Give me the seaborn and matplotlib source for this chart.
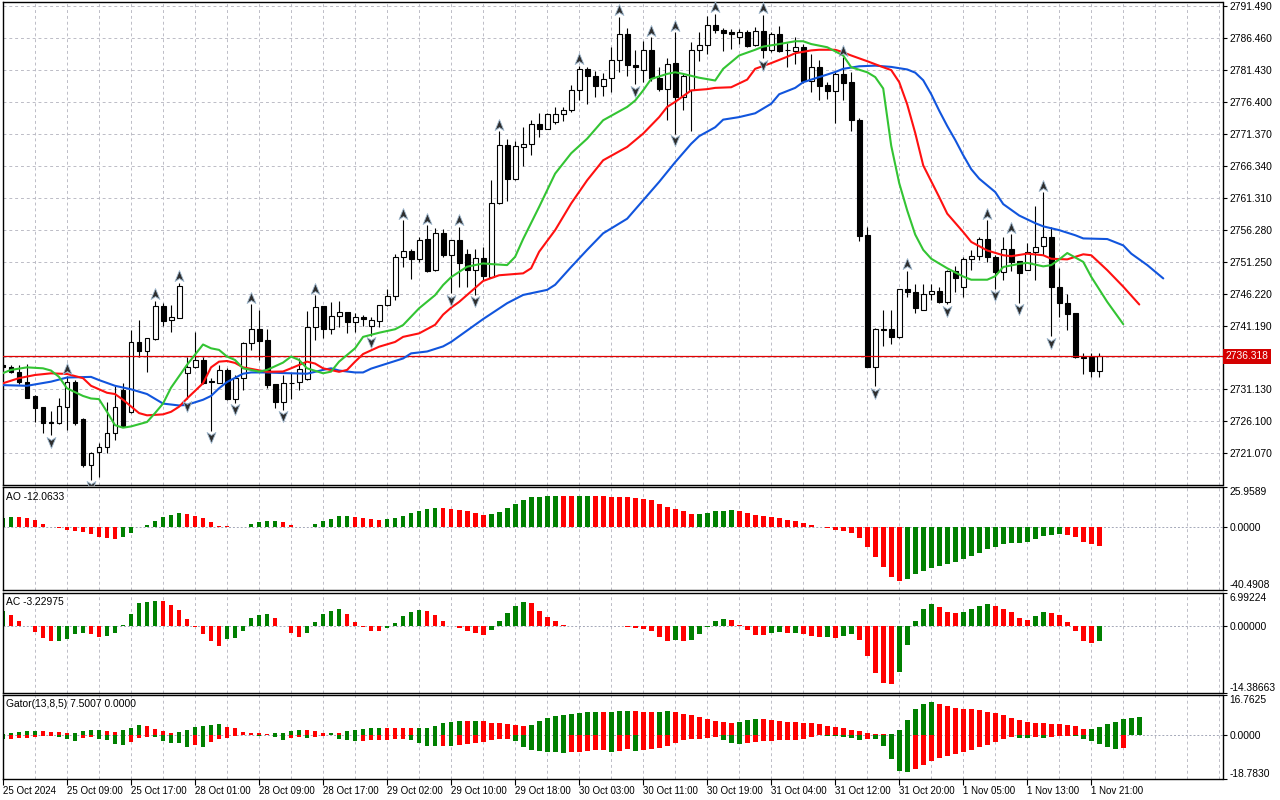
import numpy as np
import pandas as pd
import matplotlib
matplotlib.use("Agg")
import matplotlib.pyplot as plt
import matplotlib.transforms as mtransforms
from matplotlib.path import Path
import seaborn as sns

# ---------------- data (hourly XAUUSD) ----------------
opens = [2734.9, 2734.6, 2733.8, 2732.35, 2730.1, 2728.36, 2725.95, 2725.8, 2728.4, 2732.25,
         2726.4, 2719.3, 2721.2, 2722.1, 2724.2, 2731.1, 2727.5, 2738.55, 2737.1, 2739.1,
         2744.3, 2742.0, 2742.4, 2733.7, 2734.6, 2735.8, 2732.35, 2732.2, 2734.2, 2729.6,
         2733.0, 2738.4, 2740.6, 2738.9, 2731.98, 2729.2, 2732.2, 2732.25, 2732.7, 2740.9,
         2744.2, 2740.7, 2742.67, 2743.25, 2741.8, 2742.5, 2741.15, 2741.9, 2744.35, 2745.76,
         2752.04, 2752.98, 2751.7, 2754.77, 2749.9, 2755.8, 2752.27, 2754.6, 2752.4, 2749.9,
         2751.75, 2748.9, 2760.4, 2769.55, 2764.3, 2769.3, 2769.8, 2772.95, 2772.2, 2773.2,
         2774.5, 2775.05, 2778.2, 2781.6, 2780.5, 2778.97, 2780.17, 2783.0, 2787.09, 2782.27,
         2781.4, 2784.6, 2780.2, 2778.45, 2782.5, 2777.2, 2778.3, 2784.6, 2785.4, 2788.55,
         2787.7, 2787.45, 2786.67, 2787.35, 2785.4, 2787.5, 2784.5, 2787.1, 2784.6, 2784.4,
         2785.1, 2779.66, 2781.96, 2779.1, 2778.1, 2780.8, 2779.5, 2773.6, 2755.4, 2734.7,
         2740.6, 2740.6, 2739.4, 2746.9, 2746.4, 2743.7, 2746.1, 2746.65, 2744.9, 2749.7,
         2747.3, 2751.7, 2752.15, 2754.87, 2751.9, 2749.6, 2753.3, 2751.36, 2750.0, 2752.8,
         2753.67, 2755.2, 2747.2, 2744.7, 2743.1, 2736.2, 2736.2, 2734.1]
highs = [2735.2, 2735.0, 2735.0, 2735.1, 2730.25, 2728.4, 2727.7, 2729.7, 2733.25, 2732.6,
         2726.6, 2721.3, 2722.75, 2729.2, 2731.6, 2732.1, 2740.5, 2742.1, 2739.3, 2745.1,
         2744.8, 2744.4, 2747.9, 2736.3, 2740.2, 2736.3, 2732.9, 2735.0, 2734.45, 2733.4,
         2738.6, 2744.56, 2743.6, 2740.7, 2732.0, 2733.4, 2733.7, 2736.0, 2743.5, 2745.97,
         2744.3, 2744.9, 2745.1, 2743.35, 2743.2, 2742.8, 2742.6, 2744.4, 2747.0, 2752.4,
         2757.75, 2753.3, 2755.2, 2757.0, 2756.5, 2756.4, 2754.7, 2756.7, 2753.3, 2753.2,
         2753.58, 2764.05, 2771.75, 2770.6, 2770.3, 2772.5, 2773.6, 2774.7, 2774.6, 2775.57,
         2775.57, 2779.1, 2782.1, 2781.85, 2781.3, 2780.9, 2785.0, 2789.8, 2788.1, 2784.6,
         2786.04, 2786.56, 2781.85, 2783.3, 2787.35, 2780.9, 2785.8, 2787.35, 2789.97, 2790.3,
         2788.03, 2787.9, 2787.9, 2787.7, 2788.24, 2790.1, 2787.35, 2788.4, 2785.6, 2786.67,
         2785.5, 2783.95, 2783.0, 2779.5, 2781.06, 2783.4, 2781.06, 2773.9, 2756.7, 2740.75,
         2743.7, 2743.7, 2747.0, 2749.8, 2747.7, 2747.7, 2747.8, 2747.3, 2749.9, 2750.5,
         2751.9, 2753.0, 2755.2, 2757.75, 2752.25, 2755.13, 2755.55, 2751.4, 2754.2, 2759.95,
         2762.2, 2756.7, 2750.3, 2746.1, 2743.2, 2736.9, 2736.9, 2736.9]
lows = [2734.3, 2733.7, 2732.0, 2729.7, 2726.05, 2724.3, 2723.95, 2725.7, 2724.7, 2725.5,
        2718.86, 2716.9, 2717.4, 2721.17, 2723.2, 2725.2, 2727.4, 2736.3, 2733.9, 2738.9,
        2741.1, 2740.2, 2742.3, 2729.6, 2734.45, 2732.0, 2724.6, 2732.1, 2729.5, 2729.0,
        2731.05, 2737.3, 2735.76, 2731.3, 2728.17, 2727.9, 2729.6, 2731.05, 2732.6, 2738.9,
        2739.2, 2739.8, 2741.0, 2740.05, 2740.2, 2741.1, 2739.6, 2741.0, 2744.3, 2745.2,
        2750.4, 2748.5, 2751.2, 2749.6, 2749.8, 2751.9, 2746.25, 2747.3, 2747.3, 2746.0,
        2748.3, 2748.6, 2760.3, 2760.8, 2764.05, 2766.25, 2768.1, 2770.9, 2772.1, 2772.85,
        2773.4, 2774.8, 2776.7, 2775.99, 2777.1, 2777.25, 2777.93, 2781.06, 2780.5, 2779.2,
        2779.5, 2779.76, 2778.1, 2773.6, 2771.4, 2775.05, 2771.8, 2782.9, 2783.95, 2787.2,
        2784.4, 2784.73, 2785.5, 2785.1, 2785.25, 2783.3, 2784.2, 2784.2, 2781.96, 2782.4,
        2779.3, 2777.93, 2776.7, 2776.9, 2773.06, 2776.7, 2771.8, 2754.5, 2734.6, 2731.6,
        2737.9, 2738.3, 2739.3, 2745.7, 2743.2, 2743.6, 2745.2, 2744.7, 2744.55, 2746.5,
        2745.7, 2749.9, 2751.5, 2751.2, 2747.0, 2748.3, 2749.8, 2744.76, 2749.9, 2748.4,
        2752.25, 2739.5, 2742.6, 2740.5, 2736.15, 2733.6, 2733.1, 2733.1]
closes = [2734.6, 2733.9, 2732.35, 2729.83, 2728.26, 2725.9, 2725.9, 2728.5, 2732.25, 2725.8,
          2719.3, 2721.07, 2722.1, 2724.2, 2728.4, 2725.3, 2738.55, 2737.1, 2739.2, 2744.3,
          2741.96, 2742.5, 2747.4, 2734.6, 2735.8, 2732.2, 2732.3, 2734.2, 2729.6, 2732.9,
          2738.4, 2740.6, 2738.8, 2731.9, 2729.2, 2732.1, 2732.1, 2734.3, 2740.9, 2744.1,
          2740.7, 2742.67, 2743.25, 2741.8, 2742.5, 2742.15, 2742.0, 2744.35, 2745.76, 2752.04,
          2752.88, 2751.7, 2754.7, 2749.8, 2755.8, 2752.25, 2754.6, 2751.0, 2749.9, 2751.75,
          2749.0, 2760.4, 2769.55, 2764.3, 2769.4, 2769.8, 2772.95, 2772.2, 2774.5, 2774.5,
          2775.05, 2778.2, 2781.6, 2780.5, 2778.97, 2779.97, 2783.0, 2787.09, 2782.2, 2781.96,
          2784.6, 2780.2, 2778.4, 2782.4, 2777.2, 2780.4, 2784.6, 2785.4, 2788.55, 2787.7,
          2787.2, 2787.09, 2787.35, 2785.25, 2787.5, 2784.6, 2787.1, 2784.4, 2784.5, 2785.1,
          2779.66, 2781.96, 2778.97, 2778.1, 2780.8, 2779.3, 2773.6, 2755.25, 2734.7, 2740.6,
          2740.5, 2739.4, 2746.9, 2746.5, 2743.9, 2746.1, 2746.65, 2744.9, 2749.7, 2748.6,
          2751.7, 2752.15, 2754.87, 2751.9, 2749.6, 2753.3, 2751.2, 2749.5, 2752.8, 2753.56,
          2755.2, 2747.2, 2744.7, 2743.0, 2736.2, 2736.1, 2734.1, 2736.318]
last_price = 2736.318

# Alligator lines (bar index, value)
jaw_bar = [0, 3, 6, 8, 11, 12, 14, 16, 18, 20, 22, 23, 25, 26, 27, 28, 30, 31, 33, 35, 38, 40, 41, 42,
           44, 45, 46, 48, 50, 51, 53, 55, 56, 58, 60, 63, 65, 68, 69, 71, 73, 75, 78, 80, 82, 84, 86,
           87, 89, 90, 92, 94, 96, 97, 99, 100, 102, 104, 105, 107, 109, 111, 113, 114, 115, 116, 117,
           118, 119, 120, 121, 122, 124, 125, 127, 129, 130, 132, 134, 135, 138, 140, 141, 143, 145]
jaw_val = [2731.8, 2731.7, 2732.35, 2733.0, 2733.1, 2732.6, 2731.7, 2731.15, 2730.4, 2728.9, 2728.6,
           2728.7, 2729.5, 2730.1, 2731.3, 2732.3, 2733.6, 2733.8, 2733.8, 2733.7, 2733.6, 2734.2,
           2734.45, 2734.1, 2733.8, 2733.8, 2734.4, 2735.2, 2736.0, 2736.8, 2737.1, 2737.9, 2738.6,
           2740.4, 2742.2, 2744.7, 2746.0, 2746.8, 2747.6, 2750.4, 2753.1, 2755.7, 2758.0, 2760.9,
           2763.8, 2766.9, 2769.8, 2771.0, 2772.4, 2773.6, 2774.0, 2774.6, 2776.1, 2777.6, 2778.6,
           2779.5, 2780.3, 2781.1, 2781.6, 2782.0, 2782.1, 2781.9, 2781.5, 2781.0, 2779.8, 2777.6,
           2775.0, 2772.6, 2770.4, 2768.0, 2765.8, 2764.3, 2762.2, 2760.3, 2758.5, 2757.3, 2756.8,
           2756.2, 2755.4, 2754.9, 2754.8, 2753.8, 2752.5, 2750.7, 2748.6]
teeth_bar = [0, 2, 4, 6, 8, 10, 11, 13, 14, 15, 17, 18, 20, 21, 22, 23, 25, 26, 27, 28, 29, 30, 33, 35,
             36, 38, 39, 40, 42, 43, 44, 45, 47, 49, 50, 52, 54, 55, 56, 57, 60, 62, 65, 66, 67, 69,
             71, 73, 75, 78, 80, 82, 83, 84, 86, 88, 89, 91, 93, 94, 96, 98, 99, 101, 102, 104, 105,
             106, 108, 110, 111, 112, 113, 114, 115, 117, 118, 120, 121, 123, 125, 126, 128, 130, 131,
             133, 135, 136, 138, 140, 142]
teeth_val = [2732.1, 2732.9, 2733.4, 2733.66, 2733.56, 2732.9, 2731.7, 2730.6, 2730.4, 2729.5, 2727.4,
             2727.05, 2727.2, 2727.6, 2728.4, 2729.7, 2732.1, 2734.6, 2735.5, 2735.6, 2735.3, 2734.6,
             2733.9, 2733.95, 2734.45, 2735.5, 2735.2, 2734.45, 2733.9, 2734.2, 2735.5, 2736.7,
             2737.85, 2738.6, 2739.4, 2739.95, 2741.3, 2742.9, 2744.0, 2744.9, 2748.2, 2749.1, 2749.4,
             2750.2, 2752.8, 2756.2, 2760.4, 2764.05, 2767.2, 2769.3, 2771.4, 2774.0, 2775.6, 2776.4,
             2778.2, 2778.4, 2778.6, 2778.7, 2779.9, 2781.6, 2782.5, 2783.5, 2784.05, 2784.5, 2784.6,
             2784.6, 2784.2, 2783.7, 2782.8, 2781.85, 2781.4, 2779.5, 2776.0, 2771.5, 2766.4, 2761.4,
             2758.8, 2755.9, 2754.35, 2753.0, 2752.25, 2752.1, 2752.5, 2752.25, 2751.7, 2751.6, 2752.4,
             2752.25, 2749.9, 2747.3, 2744.5]
lips_bar = [0, 1, 3, 5, 6, 7, 8, 10, 11, 12, 13, 14, 15, 16, 18, 19, 20, 21, 23, 25, 26, 27, 28, 29,
            30, 32, 33, 35, 36, 37, 38, 40, 41, 42, 44, 45, 47, 49, 50, 52, 54, 55, 56, 58, 60, 61,
            63, 64, 65, 67, 69, 71, 73, 75, 78, 79, 80, 81, 83, 84, 85, 87, 89, 90, 92, 94, 95, 97,
            99, 100, 101, 103, 105, 106, 108, 109, 110, 111, 112, 113, 114, 115, 116, 118, 120, 121,
            123, 124, 125, 127, 128, 130, 131, 132, 133, 135, 136, 138, 140]
lips_val = [2733.7, 2734.2, 2734.6, 2734.45, 2734.1, 2733.1, 2731.3, 2730.1, 2729.7, 2729.6, 2727.6,
            2725.5, 2725.1, 2725.3, 2726.0, 2727.4, 2728.9, 2731.4, 2735.0, 2738.2, 2737.6, 2737.35,
            2736.3, 2735.76, 2734.45, 2733.93, 2734.2, 2735.35, 2736.3, 2735.76, 2734.45, 2733.67,
            2733.93, 2735.5, 2737.6, 2739.4, 2740.05, 2740.6, 2741.26, 2743.9, 2745.97, 2747.56,
            2748.8, 2750.45, 2750.96, 2750.86, 2750.7, 2752.0, 2754.8, 2759.86, 2765.1, 2768.3,
            2770.6, 2773.5, 2775.6, 2776.6, 2778.2, 2780.0, 2780.8, 2781.06, 2780.8, 2780.2, 2779.76,
            2781.6, 2783.7, 2784.6, 2785.1, 2785.5, 2785.94, 2785.94, 2785.5, 2785.0, 2783.7, 2781.85,
            2781.06, 2780.3, 2778.5, 2769.5, 2763.6, 2759.3, 2755.5, 2753.1, 2751.7, 2750.2, 2748.9,
            2748.4, 2748.4, 2748.95, 2750.4, 2750.9, 2751.05, 2750.5, 2750.7, 2751.6, 2752.6, 2751.2,
            2748.85, 2744.9, 2741.4]

fractal_up = [8, 19, 22, 31, 39, 50, 53, 57, 62, 72, 77, 81, 84, 89, 95, 105, 113, 123, 126, 130]
fractal_dn = [6, 11, 23, 26, 29, 35, 46, 56, 59, 79, 84, 95, 109, 118, 124, 127, 131]

ao = [6.02, 6.67, 6.56, 6.02, 4.95, 2.15, 0.43, -0.65, -1.50, -2.37,
      -2.80, -4.30, -6.24, -6.88, -7.53, -6.24, -3.66, 0.20, 1.50, 4.09,
      6.67, 7.96, 9.25, 8.39, 7.53, 6.02, 3.44, 1.08, 0.65, 0.22,
      0.32, 2.15, 3.66, 4.09, 4.19, 3.44, 1.50, 0.05, 0.11, 2.15,
      4.09, 5.38, 7.31, 7.42, 6.67, 6.02, 5.40, 4.90, 5.00, 6.02,
      7.31, 9.25, 10.75, 11.83, 12.47, 12.37, 11.83, 11.18, 10.54, 9.25,
      7.96, 8.60, 9.89, 12.47, 15.05, 17.63, 19.57, 19.68, 20.20, 20.30,
      20.20, 20.15, 20.20, 20.25, 20.20, 20.10, 19.80, 19.57, 19.35, 18.90,
      18.30, 17.60, 15.05, 13.10, 11.83, 10.50, 8.60, 8.70, 9.25, 10.54,
      10.60, 11.18, 10.54, 9.25, 7.96, 7.31, 6.67, 6.02, 4.73, 4.09,
      2.80, 1.50, 0.43, -0.65, -1.50, -2.37, -3.87, -6.67, -12.69, -19.14,
      -25.60, -32.04, -34.62, -33.33, -30.10, -28.17, -26.24, -24.95, -23.66, -22.37,
      -20.43, -18.49, -16.56, -13.98, -12.69, -10.75, -10.10, -10.00, -9.46, -7.53,
      -5.59, -4.95, -4.30, -4.95, -6.24, -9.46, -10.75, -12.06]
ac = [3.06, 2.21, 0.93, -0.14, -1.35, -2.64, -3.28, -3.20, -2.92, -1.78,
      -1.64, -1.78, -2.42, -2.20, -1.57, 0.05, 2.42, 4.92, 5.06, 5.27,
      5.20, 4.35, 3.28, 1.35, -0.29, -1.78, -3.28, -4.42, -2.85, -2.71,
      -1.21, 1.57, 2.28, 2.42, 1.57, -0.07, -1.57, -2.49, -1.57, 0.78,
      2.42, 3.21, 3.49, 2.42, 0.78, -0.29, -1.10, -1.16, -0.50, 0.57,
      2.00, 2.85, 3.28, 3.06, 2.21, 0.93, -0.14, -0.50, -1.14, -1.57,
      -2.00, -0.93, 0.93, 2.64, 4.13, 4.99, 4.78, 3.06, 1.78, 0.93,
      0.07, -0.07, -0.03, 0.02, -0.04, -0.08, -0.03, 0.03, -0.21, -0.50,
      -0.78, -1.21, -2.49, -3.28, -3.14, -3.28, -3.14, -1.78, -0.29, 0.93,
      1.35, 1.32, 0.07, -0.93, -2.00, -2.03, -1.57, -1.35, -1.57, -1.53,
      -1.78, -2.21, -2.42, -2.39, -2.64, -2.21, -1.78, -3.06, -6.49, -10.12,
      -12.26, -12.47, -9.91, -4.13, 1.00, 3.49, 4.56, 3.92, 2.85, 2.64,
      2.85, 3.49, 4.13, 4.56, 4.13, 3.49, 2.85, 1.57, 1.14, 2.00,
      2.85, 2.64, 2.21, 0.71, -1.14, -3.28, -3.71, -3.23]
gator_up = [0.42, 0.56, 1.26, 1.54, 1.69, 1.60, 1.26, 1.12, 0.70, 0.84,
            1.40, 1.97, 2.10, 1.54, 1.12, 1.97, 2.81, 4.07, 3.79, 2.53,
            1.54, 0.56, 1.12, 2.10, 3.09, 3.79, 4.07, 4.49, 3.37, 2.67,
            1.26, 0.84, 0.56, 0.42, 0.49, 0.56, 1.54, 2.10, 2.04, 1.54,
            0.70, 0.84, 0.56, 1.54, 1.97, 2.53, 2.67, 2.74, 2.71, 2.67,
            2.64, 2.61, 2.64, 2.74, 3.65, 4.92, 5.34, 5.76, 5.72, 5.76,
            5.69, 4.92, 4.85, 4.49, 4.07, 3.65, 4.07, 5.76, 7.02, 7.87,
            8.29, 8.71, 9.13, 9.55, 9.62, 9.55, 9.62, 9.97, 10.04, 9.97,
            9.62, 9.55, 9.62, 9.97, 9.55, 8.71, 8.29, 7.44, 6.60, 5.76,
            5.34, 4.92, 5.34, 6.18, 6.60, 6.53, 6.18, 5.76, 5.41, 5.34,
            4.92, 4.85, 4.49, 3.65, 3.23, 2.81, 2.10, 1.54, 0.70, 0.28,
            0.07, 0.14, 1.97, 6.18, 10.81, 12.92, 13.76, 12.92, 12.08, 11.24,
            10.81, 10.74, 10.39, 9.55, 9.13, 8.29, 7.02, 6.18, 5.34, 4.92,
            4.85, 4.49, 4.42, 4.07, 3.65, 2.39, 2.46, 3.23, 4.49, 5.34,
            6.60, 7.02, 7.50]
gator_dn = [-1.69, -1.68, -1.26, -1.25, -0.98, -0.56, -0.42, -0.84, -1.83, -2.53,
            -1.26, -1.20, -1.97, -2.25, -3.79, -4.21, -2.95, -1.26, -0.98, -1.05,
            -2.67, -3.37, -3.65, -5.06, -4.35, -5.06, -3.23, -1.83, -1.26, -0.42,
            -0.35, -0.28, -0.42, -0.35, -1.12, -2.10, -1.26, -0.84, -1.26, -1.20,
            -0.56, -0.28, -2.00, -2.45, -2.60, -2.53, -2.39, -2.25, -2.18, -1.83,
            -1.76, -2.25, -3.37, -4.63, -4.70, -4.63, -4.70, -4.21, -4.14, -3.37,
            -2.95, -2.39, -1.83, -1.76, -2.53, -5.06, -6.46, -6.74, -7.16, -7.44,
            -7.58, -7.51, -7.30, -6.74, -6.67, -6.60, -7.30, -6.74, -6.04, -6.74,
            -6.67, -5.90, -5.62, -4.78, -3.51, -2.25, -1.83, -1.76, -1.40, -1.12,
            -2.25, -3.37, -3.93, -3.37, -2.95, -2.88, -2.53, -2.25, -2.18, -2.11,
            -1.83, -0.84, -0.14, -0.42, -0.49, -0.84, -1.26, -2.25, -1.83, -1.90,
            -4.63, -10.25, -15.31, -15.73, -14.47, -13.06, -11.10, -9.69, -8.85, -8.00,
            -7.30, -6.46, -5.20, -4.35, -2.95, -1.83, -0.84, -1.26, -1.33, -0.84,
            -1.26, -1.20, -0.70, -0.42, -0.49, -1.83, -2.53, -3.79, -5.20, -5.90,
            -5.83, -0.20]

price_ticks = [2721.070, 2726.100, 2731.130, 2736.160, 2741.190, 2746.220, 2751.250, 2756.280,
               2761.310, 2766.340, 2771.370, 2776.400, 2781.430, 2786.460, 2791.490]
time_labels = ["25 Oct 2024", "25 Oct 09:00", "25 Oct 17:00", "28 Oct 01:00", "28 Oct 09:00",
               "28 Oct 17:00", "29 Oct 02:00", "29 Oct 10:00", "29 Oct 18:00", "30 Oct 03:00",
               "30 Oct 11:00", "30 Oct 19:00", "31 Oct 04:00", "31 Oct 12:00", "31 Oct 20:00",
               "1 Nov 05:00", "1 Nov 13:00", "1 Nov 21:00"]

# ---------------- style ----------------
sns.set_theme(style="white")
plt.rcParams['font.family'] = ['Liberation Sans', 'DejaVu Sans']
FS = 7.4
GREEN, RED = '#008000', '#ff0000'
PAL = {'up': GREEN, 'dn': RED}
GRID = dict(color='#bcbcc6', lw=0.7, ls=(0, (3, 3)), zorder=0)

W, H = 1280, 800
fig = plt.figure(figsize=(W / 100, H / 100), dpi=100)
fig.patch.set_facecolor('white')


def panel(top, bottom):
    ax = fig.add_axes([2.5 / W, 1 - bottom / H, 1220 / W, (bottom - top) / H])
    ax.set_facecolor('white')
    for s in ax.spines.values():
        s.set_color('black')
        s.set_linewidth(1.0)
    ax.yaxis.tick_right()
    ax.tick_params(axis='y', which='both', direction='out', length=3, width=0.8,
                   pad=2, labelsize=FS, colors='black', right=True, left=False)
    ax.tick_params(axis='x', bottom=False, labelbottom=False)
    for b in range(0, 153, 4):
        ax.axvline(b, **GRID)
    return ax


ax_p = panel(2, 485)
ax_ao = panel(487, 590)
ax_ac = panel(593, 693)
ax_gt = panel(695, 779)
XLIM = (-0.06, 152.4)

# ---------------- price panel ----------------
idx = np.arange(len(opens))
o = np.array(opens)
c = np.array(closes)
for t in price_ticks:
    ax_p.axhline(t, **GRID)
ax_p.vlines(idx, lows, highs, color='black', lw=0.8, zorder=3)
body_lo = np.minimum(o, c)
body_h = np.maximum(np.abs(c - o), 0.1)
ax_p.bar(idx, body_h, bottom=body_lo, width=0.62,
         color=np.where(c > o, 'white', 'black'), edgecolor='black', lw=0.8, zorder=4)

ax_p.axhline(last_price, color='#e00000', lw=0.9, zorder=4.5)

sns.lineplot(x=jaw_bar, y=jaw_val, ax=ax_p, color='#1155dd', lw=1.5, zorder=5)
sns.lineplot(x=teeth_bar, y=teeth_val, ax=ax_p, color='#ff1010', lw=1.5, zorder=5)
sns.lineplot(x=lips_bar, y=lips_val, ax=ax_p, color='#33c433', lw=1.5, zorder=5)

arrow_up = Path([(0, 1), (0.75, -0.85), (0, -0.35), (-0.75, -0.85), (0, 1)],
                [Path.MOVETO, Path.LINETO, Path.LINETO, Path.LINETO, Path.CLOSEPOLY])
arrow_dn = Path([(0, -1), (0.75, 0.85), (0, 0.35), (-0.75, 0.85), (0, -1)],
                [Path.MOVETO, Path.LINETO, Path.LINETO, Path.LINETO, Path.CLOSEPOLY])
h = np.array(highs)
l = np.array(lows)
shift_up = ax_p.transData + mtransforms.ScaledTranslation(0, 0.065, fig.dpi_scale_trans)
shift_dn = ax_p.transData + mtransforms.ScaledTranslation(0, -0.065, fig.dpi_scale_trans)
ax_p.plot(fractal_up, h[fractal_up], ls='none', marker=arrow_up, ms=8.5, mfc='#2e2e2e',
          mec='#9db6cc', mew=0.6, transform=shift_up, zorder=6)
ax_p.plot(fractal_dn, l[fractal_dn], ls='none', marker=arrow_dn, ms=8.5, mfc='#2e2e2e',
          mec='#9db6cc', mew=0.6, transform=shift_dn, zorder=6)

ax_p.set_xlim(*XLIM)
ax_p.set_ylim(2716.08, 2792.12)
ax_p.set_yticks(price_ticks)
ax_p.set_yticklabels([f"{t:.3f}" if abs(t - 2736.16) > 0.01 else "" for t in price_ticks])
ax_p.set_xlabel('')
ax_p.set_ylabel('')
ax_p.text(1.0025, last_price, f"{last_price:.3f}", transform=ax_p.get_yaxis_transform(),
          ha='left', va='center', fontsize=FS, color='white', zorder=10,
          bbox=dict(boxstyle='square,pad=0.22', fc='#d40000', ec='none'))


# ---------------- oscillators ----------------
def colours(vals, first='up', use_abs=False):
    v = np.abs(vals) if use_abs else np.asarray(vals)
    return [first] + ['up' if b > a else 'dn' for a, b in zip(v[:-1], v[1:])]


def hist(ax, vals, cols):
    df = pd.DataFrame({'bar': np.arange(len(vals)), 'val': vals, 'dir': cols})
    sns.barplot(data=df, x='bar', y='val', hue='dir', palette=PAL, native_scale=True,
                dodge=False, width=0.6, saturation=1, errorbar=None, legend=False,
                linewidth=0, orient='x', ax=ax, zorder=2)


def osc_axis(ax, lo, hi, fmt, name, ypix):
    ax.axhline(0, color='#a4a8b8', lw=0.7, ls=(0, (2, 2)), zorder=1)
    ax.set_xlim(*XLIM)
    ax.set_ylim(lo, hi)
    ax.set_yticks([lo, 0, hi])
    ax.set_yticklabels([fmt.format(lo), fmt.format(0), fmt.format(hi)])
    lbls = ax.get_yticklabels()
    lbls[0].set_verticalalignment('bottom')
    lbls[2].set_verticalalignment('top')
    ax.set_xlabel('')
    ax.set_ylabel('')
    fig.text(6 / W, 1 - ypix / H, name, fontsize=FS, va='center', ha='left', color='black')


hist(ax_ao, ao, colours(ao))
osc_axis(ax_ao, -40.4908, 25.9589, "{:.4f}", "AO -12.0633", 497)

hist(ax_ac, ac, colours(ac))
osc_axis(ax_ac, -14.38663, 6.99224, "{:.5f}", "AC -3.22975", 602)

hist(ax_gt, gator_up, colours(gator_up))
hist(ax_gt, gator_dn, colours(gator_dn, use_abs=True))
osc_axis(ax_gt, -18.7830, 16.7625, "{:.4f}", "Gator(13,8,5) 7.5007 0.0000", 704)

ax_gt.set_xticks(range(0, 8 * len(time_labels), 8))
ax_gt.set_xticklabels(time_labels, ha='left')
ax_gt.tick_params(axis='x', bottom=True, labelbottom=True, direction='out', length=4,
                  width=0.8, pad=1, labelsize=7.0, colors='black')

fig.savefig("out.png", dpi=100, facecolor='white')
